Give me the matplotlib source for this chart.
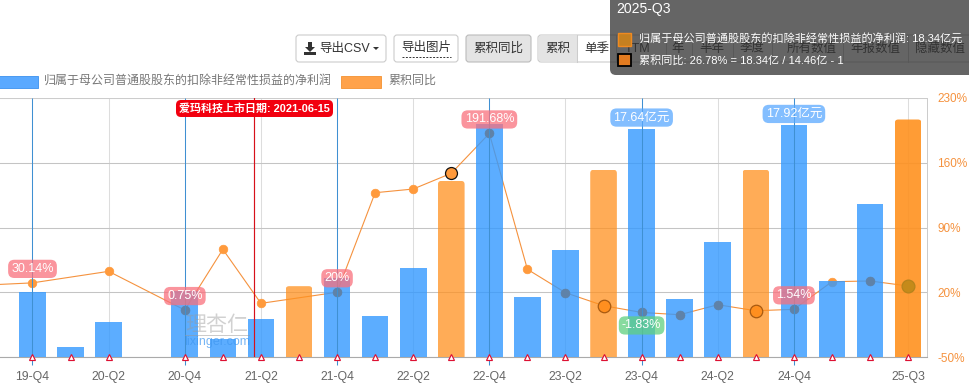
import numpy as np
import matplotlib
matplotlib.use("Agg")
import matplotlib.pyplot as plt
from matplotlib.patches import FancyBboxPatch, Rectangle
from matplotlib.transforms import IdentityTransform

plt.rcParams['font.family'] = ['Liberation Sans', 'Noto Sans CJK SC', 'DejaVu Sans']

categories = ['19-Q3','19-Q4','20-Q1','20-Q2','20-Q3','20-Q4','21-Q1','21-Q2','21-Q3','21-Q4','22-Q1','22-Q2',
              '22-Q3','22-Q4','23-Q1','23-Q2','23-Q3','23-Q4','24-Q1','24-Q2','24-Q3','24-Q4','25-Q1','25-Q2','25-Q3']
profit = [np.nan,5.05,0.8,2.7,np.nan,5.09,1.4,2.95,5.47,6.11,3.2,6.9,
          13.6,17.97,4.64,8.3,14.46,17.64,4.46,8.87,14.46,17.92,5.87,11.8,18.34]
yoy = [28.2,30.14,np.nan,42.6,np.nan,0.75,66.4,8.0,np.nan,20.0,127.6,131.6,
       148.6,191.68,44.8,19.5,5.5,-1.83,-4.3,6.5,0.0,1.54,31.4,32.2,26.78]
tick_labels = ['19-Q4','20-Q2','20-Q4','21-Q2','21-Q4','22-Q2','22-Q4','23-Q2','23-Q4','24-Q2','24-Q4','25-Q3']
pct_ticks = [-50,20,90,160,230]
q4_cats = ['19-Q4','20-Q4','21-Q4','22-Q4','23-Q4','24-Q4']
q2_cats = ['20-Q2','21-Q2','22-Q2','23-Q2','24-Q2','25-Q3']
q3_cats = ['21-Q3','22-Q3','23-Q3','24-Q3','25-Q3']
ipo_pos = 7 - 0.17   # 2021-06-15, just before the 21-Q2 quarter end

W, H = 970, 385
fig = plt.figure(figsize=(W/100, H/100), dpi=100, facecolor='white')
rect = [0, (H-357)/H, 927/W, 259/H]
x = np.arange(len(categories))
idx = {c:i for i,c in enumerate(categories)}
xlim = (1-32.5/38.07, 1+(927-32.5)/38.07)
YMIN, YMAX, PMAX = -50, 230, 20

base = fig.add_axes(rect, zorder=1)
bars = fig.add_axes(rect, zorder=2); bars.patch.set_alpha(0)
top = fig.add_axes(rect, zorder=3); top.patch.set_alpha(0)
for a in (base, top):
    a.set_xlim(xlim); a.set_ylim(YMIN, YMAX)
bars.set_xlim(xlim); bars.set_ylim(0, PMAX)
for a in (bars, top):
    a.axis('off')

base.spines['left'].set_visible(False)
for s in ('top','right'):
    base.spines[s].set_color('#cccccc'); base.spines[s].set_linewidth(.72)
base.spines['bottom'].set_color('#aaaaaa'); base.spines['bottom'].set_linewidth(.8)
base.yaxis.tick_right()
base.set_yticks(pct_ticks)
base.set_yticklabels([f'{t}%' for t in pct_ticks], color='#f5923e', fontsize=8.5)
base.tick_params(axis='y', length=0, pad=7.5)
base.grid(axis='y', color='#c4c4c4', lw=.75)
base.set_xticks([idx[c] for c in tick_labels])
base.set_xticklabels(tick_labels, color='#666666', fontsize=8.8)
base.tick_params(axis='x', length=0, pad=10)
base.set_axisbelow(True)
for c in q2_cats:
    base.axvline(idx[c], color='#dddddd', lw=.75, zorder=0.5)

yoy_arr = np.array(yoy, float)
prof_arr = np.array(profit, float)
mask = ~np.isnan(yoy_arr)
base.plot(x[mask], yoy_arr[mask], color='#f5923e', lw=.8, marker='o', ms=6.2,
          mfc='#ff9a3c', mec='#ff9a3c', mew=.5, zorder=3)

colors = []
for c in categories:
    if c == '25-Q3':
        colors.append((1, .57, .12, .9))
    elif c in q3_cats:
        colors.append((1, .57, .12, .75))
    else:
        colors.append((.2, .6, 1, .8))
cont = bars.bar(x, np.nan_to_num(profit), width=0.7, color=colors, lw=0)

# rounded tops on the orange bars
renderer = fig.canvas.get_renderer()
for c in q3_cats:
    p = cont[idx[c]]
    bb = p.get_window_extent(renderer)
    r = 3.5
    clip = FancyBboxPatch((bb.x0+r, bb.y0-20), bb.width-2*r, bb.height+20-r,
                          boxstyle=f'round,pad={r},rounding_size={r}', transform=IdentityTransform())
    p.set_clip_path(clip)

# points that sit under a blue bar read as muted blue-grey
bar_in_pct = prof_arr/PMAX*(YMAX-YMIN)+YMIN
blue = np.array([c not in q3_cats for c in categories])
under = mask & blue & (yoy_arr < np.nan_to_num(bar_in_pct, nan=-999)-3)
top.plot(x[under], yoy_arr[under], 'o', ms=6.4, mfc='#5f82a8', mec='#5f82a8', mew=.4, zorder=2)

# vertical reference lines
for c in q4_cats:
    top.plot([idx[c]]*2, [-0.03, 1], color='#3f90d2', lw=.75, clip_on=False,
             transform=top.get_xaxis_transform(), solid_capstyle='butt')
top.plot([ipo_pos]*2, [0, 1], color='#d7101a', lw=.85, transform=top.get_xaxis_transform())

# highlighted points
for c, fc, ec, ms in [('22-Q3','#ff9a3c','#111111',8.6), ('23-Q3','#ff8f1f','#a85a10',9),
                      ('24-Q3','#ff8f1f','#a85a10',9), ('25-Q3','#c58a1a','#b5831c',9.2)]:
    top.plot(idx[c], yoy[idx[c]], 'o', mfc=fc, mec=ec, ms=ms, mew=.9, zorder=5)

# triangles along the axis
tri = [i for i,v in enumerate(profit) if not np.isnan(v)]
top.plot(x[tri], np.full(len(tri), YMIN), '^', ms=4.6, mfc='white', mec='#dd1133', mew=.85,
         clip_on=False, zorder=6)

def tag(c, value, text, fc, dy, alpha=.75):
    top.annotate(text, (idx[c], value), xytext=(0, dy), textcoords='offset pixels',
                 ha='center', va='center', color='white', fontsize=9, zorder=8,
                 bbox=dict(boxstyle='round,pad=0.25,rounding_size=0.5', fc=fc, ec='none', alpha=alpha))

pink = '#f9707c'
tag('19-Q4', 30.14, '30.14%', pink, 14)
tag('20-Q4', 0.75, '0.75%', pink, 14)
tag('21-Q4', 20, '20%', pink, 14)
tag('22-Q4', 191.68, '191.68%', pink, 14)
tag('24-Q4', 1.54, '1.54%', pink, 14)
tag('23-Q4', -1.83, '-1.83%', '#5fd07f', -13)
tag('23-Q4', bar_in_pct[idx['23-Q4']], '17.64亿元', '#5aa9ff', 11)
tag('24-Q4', bar_in_pct[idx['24-Q4']], '17.92亿元', '#5aa9ff', 11)

# overlay in pixel coordinates for page furniture
ov = fig.add_axes([0,0,1,1], zorder=10)
ov.set_xlim(0, W); ov.set_ylim(H, 0); ov.axis('off'); ov.patch.set_alpha(0)

def box(x0,y0,x1,y1,fc='white',ec='#cccccc',r=3,lw=.8,z=1):
    ov.add_patch(FancyBboxPatch((x0+r,y0+r), x1-x0-2*r, y1-y0-2*r,
                 boxstyle=f'round,pad={r},rounding_size={r}', fc=fc, ec=ec, lw=lw, zorder=z))
def txt(x,y,s,size=12,color='#333333',ha='center',z=2,weight='normal',alpha=None):
    ov.text(x,y,s,fontsize=size*0.72,color=color,ha=ha,va='center',zorder=z,fontweight=weight,alpha=alpha)

box(296,35,386,62); txt(345,49,'导出CSV',12.5)
ov.add_patch(plt.Polygon([[373,47],[379,47],[376,50]], fc='#333333', zorder=2))
ov.add_patch(Rectangle((304,52),12,3,fc='#333333',zorder=2))
ov.add_patch(plt.Polygon([[308,42],[312,42],[312,47],[315,47],[310,52],[305,47],[308,47]], fc='#333333', zorder=2))
box(394,35,458,62); txt(426,48,'导出图片',12.5)
ov.plot([402,451],[56.5,56.5],color='#333333',lw=0.7,ls=(0,(2,1.5)),zorder=2)
box(466,35,531,62,fc='#e4e4e4',ec='#bbbbbb'); txt(498,49,'累积同比',12.5)
box(538,35,985,62,fc='white')
ov.add_patch(Rectangle((539,36),38,25,fc='#e4e4e4',ec='none',zorder=1.5))
for px in (577,616,666,692,733,772,843,908):
    ov.plot([px,px],[35,62],color='#cccccc',lw=.75,zorder=1.6)
for px,s in [(597,'单季'),(638,'TTM'),(678,'年'),(712,'半年'),(752,'季度'),(812,'所有数值'),(875,'年报数值'),(940,'隐藏数值')]:
    txt(px,49,s,12.5)
txt(558,49,'累积',12.5)

# legend
ov.add_patch(Rectangle((-2,75.5),40,12.5,fc='#5aa9ff',ec='#4a9af0',lw=0.7))
txt(44,81,'归属于母公司普通股股东的扣除非经常性损益的净利润',12,'#777777',ha='left')
ov.add_patch(Rectangle((341,75.5),40,12.5,fc='#ffa24a',ec='#f59a40',lw=0.7))
txt(388,81,'累积同比',12,'#777777',ha='left')

# listing-date tag
box(176,100,333,117,fc='#f2000f',ec='none',r=5,z=3)
txt(254.5,108.5,'爱玛科技上市日期: 2021-06-15',11,'white',z=4,weight='bold')

# watermark
txt(217,325,'理杏仁',21,'#9a9a9a',z=1,alpha=.45)
ov.plot([185,249],[334.5,334.5],color='#999999',lw=0.6,alpha=.6)
txt(217,342,'lixinger.com',12.5,'#3f97f0',alpha=.7)

# tooltip
ov.add_patch(FancyBboxPatch((616,-10),360,79,boxstyle='round,pad=6,rounding_size=6',
             fc=(50/255,50/255,50/255,.75),ec='none',zorder=5))
txt(616,9,'2025-Q3',14,'white',ha='left',z=6)
ov.add_patch(Rectangle((618,33),13,12.5,fc='#c58020',ec='#f08a20',lw=1,zorder=6))
txt(639,38.5,'归属于母公司普通股股东的扣除非经常性损益的净利润: 18.34亿元',11.1,'white',ha='left',z=6)
ov.add_patch(Rectangle((618,54),13,12,fc='#e27b20',ec='black',lw=1.3,zorder=6))
txt(639,60,'累积同比: 26.78% = 18.34亿 / 14.46亿 - 1',11.1,'white',ha='left',z=6)

fig.savefig('out.png', dpi=100)
